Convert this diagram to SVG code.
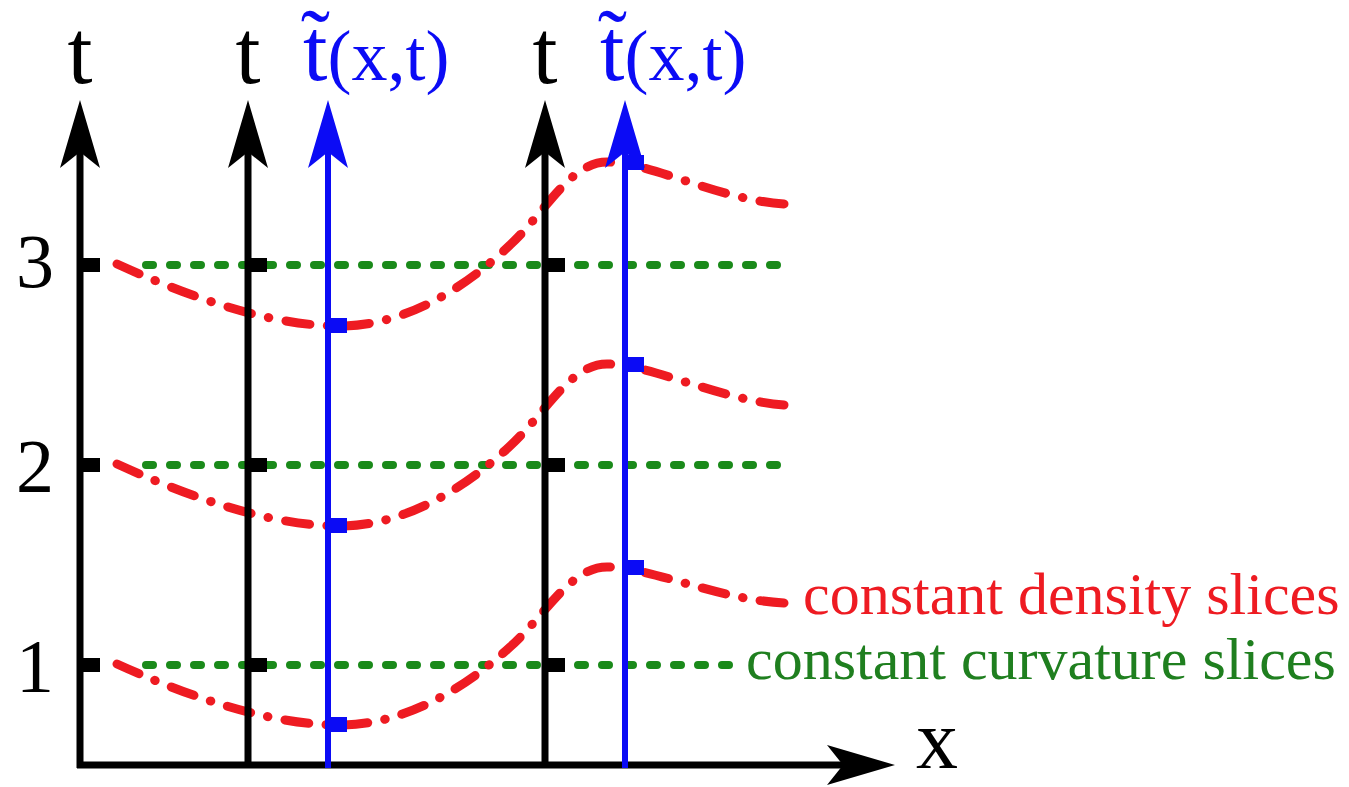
<svg xmlns="http://www.w3.org/2000/svg" width="1349" height="787" viewBox="0 0 1349 787">
<style>
  .serif { font-family: "Liberation Serif", "Times New Roman", serif; }
  .ax { stroke: #000; stroke-width: 7; fill: none; }
  .bax { stroke: #0b0bf5; stroke-width: 6; fill: none; }
  .green { stroke: #1a8a1a; stroke-width: 8; fill: none; stroke-linecap: round; stroke-dasharray: 7 17; }
  .red { stroke: #ee1b22; stroke-width: 9; fill: none; stroke-linecap: round; stroke-dasharray: 25 18 0.5 18; }
  .tick { fill: #000; }
  .bmark { fill: #0b0bf5; }
</style>
<defs>
  <marker id="arrK" viewBox="0 -22 70 44" refX="16" refY="0" markerWidth="70" markerHeight="44" markerUnits="userSpaceOnUse" orient="auto">
    <path d="M68,0 L0,-20 L16,0 L0,20 Z" fill="#000"/>
  </marker>
  <marker id="arrB" viewBox="0 -22 70 44" refX="16" refY="0" markerWidth="70" markerHeight="44" markerUnits="userSpaceOnUse" orient="auto">
    <path d="M68,0 L0,-20 L16,0 L0,20 Z" fill="#0b0bf5"/>
  </marker>
</defs>
<rect width="1349" height="787" fill="#fff"/>

<g id="green-slices">
  <line class="green" x1="146" y1="265" x2="778" y2="265"/>
  <line class="green" x1="146" y1="465" x2="778" y2="465"/>
  <line class="green" x1="146" y1="665" x2="730" y2="665"/>
</g>

<g id="red-slices">
  <path class="red" pathLength="763" d="M117,264 C170,288 260,326 340,326 C400,326 460,293 510,245 C545,213 570,162 607,162 C650,162 720,200 784,204"/>
  <path class="red" pathLength="763" d="M117,464 C170,488 260,526 340,526 C400,526 460,493 510,446 C545,414 570,364 607,364 C650,364 720,400 784,405"/>
  <path class="red" pathLength="763" d="M117,664 C170,688 260,725 340,725 C400,725 460,693 510,647 C545,616 570,567 607,567 C650,567 720,600 784,603"/>
</g>

<g id="connectors">
  <line class="ax" x1="80" y1="768" x2="80" y2="152" marker-end="url(#arrK)"/>
  <line class="ax" x1="77" y1="765" x2="843" y2="765" marker-end="url(#arrK)"/>
  <line class="ax" x1="248" y1="768" x2="248" y2="152" marker-end="url(#arrK)"/>
  <line class="ax" x1="545" y1="768" x2="545" y2="152" marker-end="url(#arrK)"/>
  <line class="bax" x1="328" y1="768" x2="328" y2="152" marker-end="url(#arrB)"/>
  <line class="bax" x1="625" y1="768" x2="625" y2="152" marker-end="url(#arrB)"/>
</g>

<g id="ticks">
  <rect class="tick" x="80" y="258" width="20" height="14"/>
  <rect class="tick" x="80" y="458" width="20" height="14"/>
  <rect class="tick" x="80" y="658" width="20" height="14"/>
  <rect class="tick" x="248" y="258" width="19" height="14"/>
  <rect class="tick" x="248" y="458" width="19" height="14"/>
  <rect class="tick" x="248" y="658" width="19" height="14"/>
  <rect class="tick" x="545" y="258" width="20" height="14"/>
  <rect class="tick" x="545" y="458" width="20" height="14"/>
  <rect class="tick" x="545" y="658" width="20" height="14"/>
</g>

<g id="blue-markers">
  <rect class="bmark" x="326" y="318" width="21" height="15"/>
  <rect class="bmark" x="326" y="518" width="21" height="15"/>
  <rect class="bmark" x="326" y="717" width="21" height="15"/>
  <rect class="bmark" x="623" y="155" width="21" height="15"/>
  <rect class="bmark" x="623" y="357" width="21" height="15"/>
  <rect class="bmark" x="623" y="560" width="21" height="15"/>
</g>

<g id="labels" class="serif">
  <text x="80" y="83" font-size="90" text-anchor="middle" fill="#000">t</text>
  <text x="248" y="83" font-size="90" text-anchor="middle" fill="#000">t</text>
  <text x="545" y="83" font-size="90" text-anchor="middle" fill="#000">t</text>
  <text x="303" y="80" fill="#0b0bf5"><tspan font-size="88">t̃</tspan><tspan font-size="72">(x,t)</tspan></text>
  <text x="600" y="80" fill="#0b0bf5"><tspan font-size="88">t̃</tspan><tspan font-size="72">(x,t)</tspan></text>
  <text x="35" y="287" font-size="76" text-anchor="middle" fill="#000">3</text>
  <text x="35" y="492" font-size="76" text-anchor="middle" fill="#000">2</text>
  <text x="35" y="692" font-size="76" text-anchor="middle" fill="#000">1</text>
  <text x="916" y="768" font-size="84" fill="#000">x</text>
  <text x="803" y="614" font-size="60" fill="#ee1b22">constant density slices</text>
  <text x="746" y="679" font-size="60" fill="#1f7f1f">constant curvature slices</text>
</g>
</svg>
